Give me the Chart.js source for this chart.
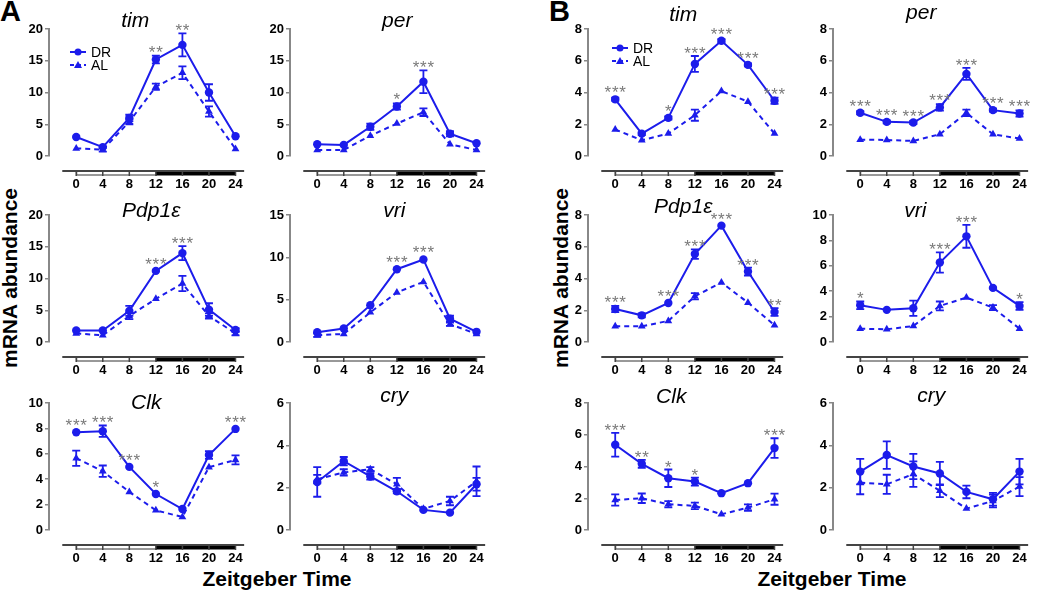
<!DOCTYPE html>
<html>
<head>
<meta charset="utf-8">
<script src="https://cdn.jsdelivr.net/npm/chart.js@4.4.1/dist/chart.umd.min.js"></script>
<style>
  body { margin:0; background:#fff; width:1050px; height:592px; overflow:hidden; position:relative; font-family:"Liberation Sans", Arial, sans-serif; }
  canvas { position:absolute; }
  .lbl { position:absolute; font-weight:bold; color:#000; white-space:nowrap; }
</style>
</head>
<body>
<div class="lbl" style="left:0px;top:-5px;font-size:29px;">A</div>
<div class="lbl" style="left:549px;top:-5px;font-size:29px;">B</div>
<div class="lbl" style="left:10px;top:278px;font-size:21px;transform:translate(-50%,-50%) rotate(-90deg);">mRNA abundance</div>
<div class="lbl" style="left:561px;top:278px;font-size:21px;transform:translate(-50%,-50%) rotate(-90deg);">mRNA abundance</div>
<div class="lbl" style="left:277px;top:567px;font-size:21px;transform:translateX(-50%);">Zeitgeber Time</div>
<div class="lbl" style="left:832px;top:567px;font-size:21px;transform:translateX(-50%);">Zeitgeber Time</div>

<script>
// Zeitgeber time points
var zt = [0, 4, 8, 12, 16, 20, 24];

// --- panel A ---
var A_tim_DR = [3.0, 1.4, 6.0, 15.2, 17.5, 10.0, 3.1];
var A_tim_DRerr = [0.2, 0.2, 0.5, 0.6, 1.8, 1.3, 0.2];
var A_tim_AL = [1.2, 1.0, 5.4, 10.9, 13.1, 7.0, 1.1];
var A_tim_ALerr = [0.1, 0.3, 0.4, 0.5, 1.0, 0.8, 0.1];
var A_tim_sig = ['', '', '', '**', '**', '', ''];

var A_per_DR = [1.85, 1.75, 4.6, 7.8, 11.7, 3.5, 2.0];
var A_per_DRerr = [0.2, 0.2, 0.5, 0.5, 1.8, 0.4, 0.2];
var A_per_AL = [0.95, 0.95, 3.2, 5.1, 6.9, 1.85, 0.95];
var A_per_ALerr = [0.1, 0.1, 0.2, 0.2, 0.6, 0.2, 0.1];
var A_per_sig = ['', '', '', '*', '***', '', ''];

var A_pdp_DR = [1.8, 1.8, 4.9, 11.2, 14.0, 5.1, 1.9];
var A_pdp_DRerr = [0.2, 0.2, 0.8, 0.2, 1.1, 1.0, 0.3];
var A_pdp_AL = [1.35, 1.05, 4.1, 6.8, 9.2, 4.1, 1.35];
var A_pdp_ALerr = [0.2, 0.2, 0.5, 0.2, 1.2, 0.4, 0.3];
var A_pdp_sig = ['', '', '', '***', '***', '', ''];

var A_vri_DR = [1.15, 1.6, 4.35, 8.6, 9.75, 2.75, 1.2];
var A_vri_DRerr = [0.15, 0.15, 0.15, 0.15, 0.15, 0.35, 0.15];
var A_vri_AL = [0.8, 0.95, 3.5, 5.85, 7.1, 2.1, 0.95];
var A_vri_ALerr = [0.2, 0.1, 0.1, 0.1, 0.1, 0.2, 0.15];
var A_vri_sig = ['', '', '', '***', '***', '', ''];

var A_clk_DR = [7.7, 7.78, 4.97, 2.83, 1.65, 5.9, 7.96];
var A_clk_DRerr = [0.1, 0.45, 0.1, 0.1, 0.1, 0.3, 0.1];
var A_clk_AL = [5.65, 4.63, 3.0, 1.55, 1.02, 4.95, 5.52];
var A_clk_ALerr = [0.6, 0.45, 0.1, 0.1, 0.1, 0.1, 0.35];
var A_clk_sig = ['***', '***', '***', '*', '', '', '***'];

var A_cry_DR = [2.27, 3.25, 2.53, 1.83, 0.95, 0.82, 2.16];
var A_cry_DRerr = [0.7, 0.2, 0.15, 0.1, 0.05, 0.05, 0.3];
var A_cry_AL = [2.4, 2.72, 2.87, 2.16, 1.0, 1.37, 2.3];
var A_cry_ALerr = [0.2, 0.15, 0.1, 0.3, 0.05, 0.2, 0.7];
var A_cry_sig = ['', '', '', '', '', '', ''];

// --- panel B ---
var B_tim_DR = [3.57, 1.41, 2.4, 5.8, 7.26, 5.74, 3.48];
var B_tim_DRerr = [0.1, 0.1, 0.1, 0.5, 0.1, 0.1, 0.2];
var B_tim_AL = [1.67, 0.99, 1.41, 2.57, 4.09, 3.42, 1.41];
var B_tim_ALerr = [0.05, 0.05, 0.05, 0.35, 0.05, 0.05, 0.05];
var B_tim_sig = ['***', '', '*', '***', '***', '***', '***'];

var B_per_DR = [2.72, 2.15, 2.11, 3.06, 5.17, 2.89, 2.68];
var B_per_DRerr = [0.1, 0.1, 0.1, 0.2, 0.38, 0.1, 0.2];
var B_per_AL = [1.03, 1.01, 0.95, 1.37, 2.72, 1.37, 1.1];
var B_per_ALerr = [0.05, 0.05, 0.05, 0.05, 0.2, 0.05, 0.05];
var B_per_sig = ['***', '***', '***', '***', '***', '***', '***'];

var B_pdp_DR = [2.08, 1.68, 2.46, 5.54, 7.33, 4.44, 1.89];
var B_pdp_DRerr = [0.2, 0.12, 0.08, 0.3, 0.08, 0.25, 0.25];
var B_pdp_AL = [0.99, 0.99, 1.33, 2.88, 3.75, 2.48, 1.05];
var B_pdp_ALerr = [0.05, 0.05, 0.05, 0.2, 0.05, 0.05, 0.05];
var B_pdp_sig = ['***', '', '***', '***', '***', '***', '**'];

var B_vri_DR = [2.89, 2.53, 2.66, 6.26, 8.32, 4.26, 2.84];
var B_vri_DRerr = [0.3, 0.1, 0.6, 0.8, 0.9, 0.1, 0.3];
var B_vri_AL = [1.05, 1.0, 1.26, 2.84, 3.5, 2.71, 1.05];
var B_vri_ALerr = [0.05, 0.05, 0.05, 0.35, 0.05, 0.2, 0.05];
var B_vri_sig = ['*', '', '', '***', '***', '', '*'];

var B_clk_DR = [5.37, 4.17, 3.26, 3.05, 2.32, 2.95, 5.16];
var B_clk_DRerr = [0.75, 0.25, 0.55, 0.25, 0.05, 0.05, 0.62];
var B_clk_AL = [1.89, 2.0, 1.62, 1.52, 0.99, 1.41, 1.94];
var B_clk_ALerr = [0.35, 0.3, 0.2, 0.2, 0.05, 0.2, 0.35];
var B_clk_sig = ['***', '**', '*', '*', '', '', '***'];

var B_cry_DR = [2.76, 3.54, 3.0, 2.67, 1.8, 1.45, 2.76];
var B_cry_DRerr = [0.6, 0.65, 0.6, 0.55, 0.3, 0.3, 0.6];
var B_cry_AL = [2.24, 2.16, 2.64, 1.85, 1.01, 1.37, 2.05];
var B_cry_ALerr = [0.55, 0.45, 0.6, 0.3, 0.05, 0.3, 0.45];
var B_cry_sig = ['', '', '', '', '', '', ''];

var blue = 'rgb(28,28,235)';
var FONT = '"Liberation Sans", Arial, sans-serif';

// column = x of y axis, row = y of top of plot area
var cols = [49, 290, 588, 833];
var rows = [29, 215, 403];

var panels = [
  {gene:'tim', dr:A_tim_DR, drE:A_tim_DRerr, al:A_tim_AL, alE:A_tim_ALerr, sig:A_tim_sig, max:20, step:5, c:0, r:0, tdx:-12, tdy:-2, legend:[21,23]},
  {gene:'per', dr:A_per_DR, drE:A_per_DRerr, al:A_per_AL, alE:A_per_ALerr, sig:A_per_sig, max:20, step:5, c:1, r:0, tdx:9, tdy:-2},
  {gene:'Pdp1ε', dr:A_pdp_DR, drE:A_pdp_DRerr, al:A_pdp_AL, alE:A_pdp_ALerr, sig:A_pdp_sig, max:20, step:5, c:0, r:1, tdx:4, tdy:2},
  {gene:'vri', dr:A_vri_DR, drE:A_vri_DRerr, al:A_vri_AL, alE:A_vri_ALerr, sig:A_vri_sig, max:15, step:5, c:1, r:1, tdx:6, tdy:2},
  {gene:'Clk', dr:A_clk_DR, drE:A_clk_DRerr, al:A_clk_AL, alE:A_clk_ALerr, sig:A_clk_sig, max:10, step:2, c:0, r:2, tdx:-1, tdy:6},
  {gene:'cry', dr:A_cry_DR, drE:A_cry_DRerr, al:A_cry_AL, alE:A_cry_ALerr, sig:A_cry_sig, max:6, step:2, c:1, r:2, tdx:6, tdy:-1},
  {gene:'tim', dr:B_tim_DR, drE:B_tim_DRerr, al:B_tim_AL, alE:B_tim_ALerr, sig:B_tim_sig, max:8, step:2, c:2, r:0, tdx:-3, tdy:-8, legend:[24,19]},
  {gene:'per', dr:B_per_DR, drE:B_per_DRerr, al:B_per_AL, alE:B_per_ALerr, sig:B_per_sig, max:8, step:2, c:3, r:0, tdx:-10, tdy:-10},
  {gene:'Pdp1ε', dr:B_pdp_DR, drE:B_pdp_DRerr, al:B_pdp_AL, alE:B_pdp_ALerr, sig:B_pdp_sig, max:8, step:2, c:2, r:1, tdx:-3, tdy:-2},
  {gene:'vri', dr:B_vri_DR, drE:B_vri_DRerr, al:B_vri_AL, alE:B_vri_ALerr, sig:B_vri_sig, max:10, step:2, c:3, r:1, tdx:-16, tdy:2},
  {gene:'Clk', dr:B_clk_DR, drE:B_clk_DRerr, al:B_clk_AL, alE:B_clk_ALerr, sig:B_clk_sig, max:8, step:2, c:2, r:2, tdx:-15, tdy:0},
  {gene:'cry', dr:B_cry_DR, drE:B_cry_DRerr, al:B_cry_AL, alE:B_cry_ALerr, sig:B_cry_sig, max:6, step:2, c:3, r:2, tdx:0, tdy:-1}
];

// error bars, stars, light/dark bar, title, legend
var panelPlugin = {
  id: 'panelExtras',
  afterDatasetsDraw: function(chart) {
    var ctx = chart.ctx, y = chart.scales.y;
    ctx.save();
    ctx.strokeStyle = blue;
    ctx.lineWidth = 1.8;
    chart.data.datasets.forEach(function(ds, i) {
      var meta = chart.getDatasetMeta(i);
      ds.err.forEach(function(e, j) {
        if (!e) return;
        var px = meta.data[j].x;
        var t = y.getPixelForValue(ds.data[j].y + e);
        var b = y.getPixelForValue(ds.data[j].y - e);
        if (b - t < 3) return;
        ctx.beginPath();
        ctx.moveTo(px, t); ctx.lineTo(px, b);
        ctx.moveTo(px - 4, t); ctx.lineTo(px + 4, t);
        ctx.moveTo(px - 4, b); ctx.lineTo(px + 4, b);
        ctx.stroke();
      });
    });
    // significance stars over DR
    var dr = chart.data.datasets[0];
    var m0 = chart.getDatasetMeta(0);
    ctx.fillStyle = '#7a7a7a';
    ctx.font = '17px ' + FONT;
    ctx.letterSpacing = '0.8px';
    ctx.textAlign = 'left';
    ctx.textBaseline = 'alphabetic';
    dr.sig.forEach(function(s, j) {
      if (!s) return;
      var top = y.getPixelForValue(dr.data[j].y + (dr.err[j] || 0));
      top = Math.min(top, m0.data[j].y - 4);
      var w = ctx.measureText(s).width;
      ctx.fillText(s, m0.data[j].x - w / 2 + 0.4, top + 3);
    });
    ctx.restore();
  },
  afterDraw: function(chart) {
    var ctx = chart.ctx, x = chart.scales.x, a = chart.chartArea;
    var p = chart.options.panel;
    var ly = a.bottom + 15;
    ctx.save();
    // light/dark bar
    ctx.fillStyle = '#fff';
    ctx.strokeStyle = '#333';
    ctx.lineWidth = 1;
    ctx.fillRect(x.getPixelForValue(0), ly, x.getPixelForValue(12) - x.getPixelForValue(0), 4);
    ctx.strokeRect(x.getPixelForValue(0) + 0.5, ly + 0.5, x.getPixelForValue(12) - x.getPixelForValue(0), 3.5);
    ctx.fillStyle = '#000';
    ctx.fillRect(x.getPixelForValue(12), ly - 1, x.getPixelForValue(24) - x.getPixelForValue(12), 5.5);
    // axis line
    ctx.strokeStyle = '#444';
    ctx.lineWidth = 2;
    ctx.beginPath();
    ctx.moveTo(x.getPixelForValue(-2.1), ly);
    ctx.lineTo(x.getPixelForValue(25.3), ly);
    ctx.stroke();
    ctx.lineWidth = 1.5;
    zt.forEach(function(v) {
      var px = x.getPixelForValue(v);
      ctx.beginPath(); ctx.moveTo(px, ly); ctx.lineTo(px, ly + 5); ctx.stroke();
    });
    // gene title
    ctx.fillStyle = '#000';
    ctx.font = 'italic 21px ' + FONT;
    ctx.textAlign = 'center';
    ctx.textBaseline = 'alphabetic';
    ctx.fillText(p.gene, (a.left + a.right) / 2 + p.tdx, a.top + p.tdy);
    // legend
    if (p.legend) {
      var lx = a.left + p.legend[0], l1 = a.top + p.legend[1], l2 = l1 + 13;
      ctx.strokeStyle = blue; ctx.fillStyle = blue; ctx.lineWidth = 2;
      ctx.beginPath(); ctx.moveTo(lx, l1); ctx.lineTo(lx + 16, l1); ctx.stroke();
      ctx.beginPath(); ctx.arc(lx + 8, l1, 3.5, 0, Math.PI * 2); ctx.fill();
      ctx.setLineDash([4, 3]);
      ctx.beginPath(); ctx.moveTo(lx, l2); ctx.lineTo(lx + 16, l2); ctx.stroke();
      ctx.setLineDash([]);
      ctx.beginPath(); ctx.moveTo(lx + 8, l2 - 4); ctx.lineTo(lx + 12, l2 + 3); ctx.lineTo(lx + 4, l2 + 3); ctx.closePath(); ctx.fill();
      ctx.fillStyle = '#000';
      ctx.font = '14px ' + FONT;
      ctx.textAlign = 'left';
      ctx.textBaseline = 'middle';
      ctx.fillText('DR', lx + 21, l1 + 1);
      ctx.fillText('AL', lx + 21, l2 + 1);
    }
    ctx.restore();
  }
};

panels.forEach(function(p) {
  var cv = document.createElement('canvas');
  cv.width = 255; cv.height = 197;
  cv.style.left = (cols[p.c] - 40) + 'px';
  cv.style.top = (rows[p.r] - 30) + 'px';
  document.body.appendChild(cv);
  new Chart(cv.getContext('2d'), {
    type: 'line',
    data: {
      datasets: [
        { label: 'DR', data: zt.map(function(t, i) { return {x: t, y: p.dr[i]}; }), err: p.drE, sig: p.sig,
          borderColor: blue, backgroundColor: blue, borderWidth: 2, tension: 0,
          pointStyle: 'circle', pointRadius: 4.2, pointBorderWidth: 0, clip: false },
        { label: 'AL', data: zt.map(function(t, i) { return {x: t, y: p.al[i]}; }), err: p.alE,
          borderColor: blue, backgroundColor: blue, borderWidth: 2, borderDash: [5, 4], tension: 0,
          pointStyle: 'triangle', pointRadius: 4.5, pointBorderWidth: 0, clip: false }
      ]
    },
    options: {
      responsive: false,
      animation: false,
      panel: p,
      layout: { padding: { top: 30, right: 5, left: 0, bottom: 0 } },
      plugins: { legend: { display: false }, tooltip: { enabled: false } },
      scales: {
        x: {
          type: 'linear', min: -4.1, max: 25.5,
          afterBuildTicks: function(s) { s.ticks = zt.map(function(v) { return {value: v}; }); },
          grid: { display: false, drawTicks: false },
          border: { display: false },
          ticks: { padding: 21, color: '#000', font: { family: FONT, size: 13, weight: 'bold' }, maxRotation: 0, autoSkip: false },
          afterFit: function(s) { s.height = 40; }
        },
        y: {
          min: 0, max: p.max,
          ticks: { stepSize: p.step, padding: 2, color: '#000', font: { family: FONT, size: 13, weight: 'bold' } },
          grid: { drawOnChartArea: false, tickLength: 4, color: '#888', lineWidth: 1.5 },
          border: { color: '#888', width: 2 },
          afterFit: function(s) { s.width = 40; }
        }
      }
    },
    plugins: [panelPlugin]
  });
});
</script>
</body>
</html>
